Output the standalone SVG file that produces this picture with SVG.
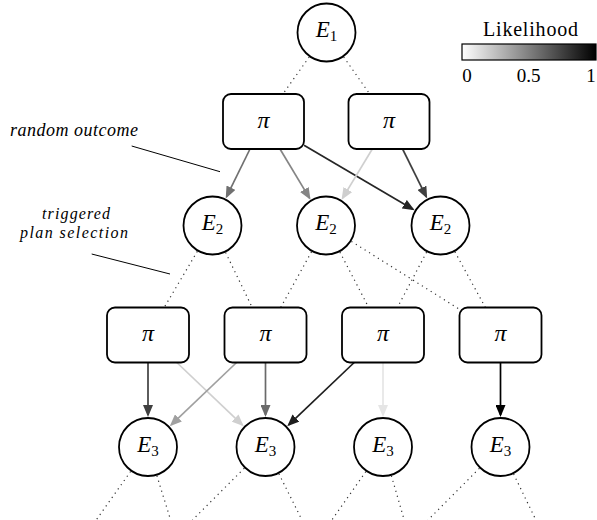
<svg xmlns="http://www.w3.org/2000/svg" width="597" height="520" viewBox="0 0 597 520">
<style>
  .node circle { fill: #fff; stroke: #000; stroke-width: 1.8; }
  .node rect { fill: #fff; stroke: #000; stroke-width: 1.8; }
  .lbl { font-family: "Liberation Serif", "Times New Roman", serif; font-style: italic; font-size: 23px; fill: #000; }
  .sub { font-size: 15px; font-style: normal; }
  .pi { font-family: "Liberation Serif", "Times New Roman", serif; font-style: italic; font-size: 24px; fill: #000; }
  .dot { stroke: #333; stroke-width: 1.2; stroke-dasharray: 1.2 4; fill: none; }
  .arr { stroke-width: 1.7; fill: none; }
  .note { font-family: "Liberation Serif", "Times New Roman", serif; font-style: italic; font-size: 18px; fill: #000; }
  .note2 { font-family: "Liberation Serif", "Times New Roman", serif; font-style: italic; font-size: 16px; fill: #000; }
  .ptr { stroke: #000; stroke-width: 1; }
  .leg { font-family: "Liberation Serif", "Times New Roman", serif; font-size: 19px; fill: #000; }
  .legt { font-family: "Liberation Serif", "Times New Roman", serif; font-size: 20px; fill: #000; }
</style>
<defs>
  <linearGradient id="grad" x1="0" y1="0" x2="1" y2="0">
    <stop offset="0" stop-color="#fff"/>
    <stop offset="1" stop-color="#000"/>
  </linearGradient>
  <marker id="m70" viewBox="0 0 12 10" refX="10" refY="5" markerWidth="12" markerHeight="10" markerUnits="userSpaceOnUse" orient="auto"><path d="M0,0 L12,5 L0,10 z" fill="#707070"/></marker>
  <marker id="m85" viewBox="0 0 12 10" refX="10" refY="5" markerWidth="12" markerHeight="10" markerUnits="userSpaceOnUse" orient="auto"><path d="M0,0 L12,5 L0,10 z" fill="#858585"/></marker>
  <marker id="m26" viewBox="0 0 12 10" refX="10" refY="5" markerWidth="12" markerHeight="10" markerUnits="userSpaceOnUse" orient="auto"><path d="M0,0 L12,5 L0,10 z" fill="#262626"/></marker>
  <marker id="mcf" viewBox="0 0 12 10" refX="10" refY="5" markerWidth="12" markerHeight="10" markerUnits="userSpaceOnUse" orient="auto"><path d="M0,0 L12,5 L0,10 z" fill="#cfcfcf"/></marker>
  <marker id="m40" viewBox="0 0 12 10" refX="10" refY="5" markerWidth="12" markerHeight="10" markerUnits="userSpaceOnUse" orient="auto"><path d="M0,0 L12,5 L0,10 z" fill="#404040"/></marker>
  <marker id="ma0" viewBox="0 0 12 10" refX="10" refY="5" markerWidth="12" markerHeight="10" markerUnits="userSpaceOnUse" orient="auto"><path d="M0,0 L12,5 L0,10 z" fill="#a0a0a0"/></marker>
  <marker id="m6a" viewBox="0 0 12 10" refX="10" refY="5" markerWidth="12" markerHeight="10" markerUnits="userSpaceOnUse" orient="auto"><path d="M0,0 L12,5 L0,10 z" fill="#6a6a6a"/></marker>
  <marker id="m1e" viewBox="0 0 12 10" refX="10" refY="5" markerWidth="12" markerHeight="10" markerUnits="userSpaceOnUse" orient="auto"><path d="M0,0 L12,5 L0,10 z" fill="#1e1e1e"/></marker>
  <marker id="me5" viewBox="0 0 12 10" refX="10" refY="5" markerWidth="12" markerHeight="10" markerUnits="userSpaceOnUse" orient="auto"><path d="M0,0 L12,5 L0,10 z" fill="#e5e5e5"/></marker>
  <marker id="m00" viewBox="0 0 12 10" refX="10" refY="5" markerWidth="12" markerHeight="10" markerUnits="userSpaceOnUse" orient="auto"><path d="M0,0 L12,5 L0,10 z" fill="#000"/></marker>
</defs>

<g id="connectors">
  <!-- dotted: E1 to plans -->
  <line class="dot" x1="309.2" y1="57.0" x2="283.0" y2="94"/>
  <line class="dot" x1="343.7" y1="57.0" x2="369.7" y2="94"/>
  <!-- dotted: E2 to plans -->
  <line class="dot" x1="197.3" y1="251.4" x2="164.2" y2="307.5"/>
  <line class="dot" x1="225.6" y1="252.5" x2="252.2" y2="307.5"/>
  <line class="dot" x1="311.5" y1="251.8" x2="280.7" y2="307.5"/>
  <line class="dot" x1="339.9" y1="252.1" x2="368.7" y2="307.5"/>
  <line class="dot" x1="351.4" y1="241.4" x2="459.5" y2="309.3"/>
  <line class="dot" x1="426.6" y1="252.1" x2="397.4" y2="307.5"/>
  <line class="dot" x1="454.9" y1="251.8" x2="485.4" y2="307.5"/>
  <!-- dotted: E3 downwards -->
  <line class="dot" x1="130.6" y1="471.5" x2="96.2" y2="520"/>
  <line class="dot" x1="156.9" y1="475.7" x2="170.6" y2="520"/>
  <line class="dot" x1="244.3" y1="468.2" x2="192.5" y2="520"/>
  <line class="dot" x1="278.9" y1="473.8" x2="302" y2="520"/>
  <line class="dot" x1="365.8" y1="471.6" x2="331.9" y2="520"/>
  <line class="dot" x1="391.4" y1="475.8" x2="404.2" y2="520"/>
  <line class="dot" x1="479.4" y1="468.3" x2="428" y2="520"/>
  <line class="dot" x1="513.6" y1="474.0" x2="535.9" y2="520"/>

  <!-- row 2 arrows -->
  <line class="arr" stroke="#707070" marker-end="url(#m70)" x1="250.0" y1="149" x2="226.6" y2="196.7"/>
  <line class="arr" stroke="#858585" marker-end="url(#m85)" x1="280.0" y1="149" x2="309.5" y2="198.1"/>
  <line class="arr" stroke="#262626" marker-end="url(#m26)" x1="304" y1="145.3" x2="412.9" y2="209.3"/>
  <line class="arr" stroke="#cfcfcf" marker-end="url(#mcf)" x1="372.3" y1="149" x2="342.6" y2="198.1"/>
  <line class="arr" stroke="#404040" marker-end="url(#m40)" x1="402.6" y1="149" x2="426.3" y2="196.8"/>

  <!-- row 3 arrows -->
  <line class="arr" stroke="#404040" marker-end="url(#m40)" x1="148" y1="362.5" x2="148" y2="415"/>
  <line class="arr" stroke="#cfcfcf" marker-end="url(#mcf)" x1="176.8" y1="362.5" x2="242.3" y2="424.9"/>
  <line class="arr" stroke="#a0a0a0" marker-end="url(#ma0)" x1="236.6" y1="362.5" x2="171.2" y2="424.9"/>
  <line class="arr" stroke="#6a6a6a" marker-end="url(#m6a)" x1="265.5" y1="362.5" x2="265.5" y2="415"/>
  <line class="arr" stroke="#1e1e1e" marker-end="url(#m1e)" x1="354.2" y1="362.5" x2="288.7" y2="424.9"/>
  <line class="arr" stroke="#e5e5e5" marker-end="url(#me5)" x1="383" y1="362.5" x2="383" y2="415"/>
  <line class="arr" stroke="#000" marker-end="url(#m00)" x1="500.5" y1="362.5" x2="500.5" y2="415"/>

  <!-- annotation pointers -->
  <line class="ptr" x1="131.7" y1="146" x2="220" y2="171.7"/>
  <line class="ptr" x1="91.7" y1="254" x2="170" y2="274"/>
</g>

<g id="E1" class="node"><circle cx="326.5" cy="32.5" r="29"/><text class="lbl" x="326.5" y="37" text-anchor="middle">E<tspan class="sub" dy="4">1</tspan></text></g>

<g id="pi1" class="node"><rect x="223" y="94" width="81" height="55" rx="8"/><text class="pi" x="263.5" y="127.5" text-anchor="middle">π</text></g>
<g id="pi2" class="node"><rect x="348.5" y="94" width="81" height="55" rx="8"/><text class="pi" x="389" y="127.5" text-anchor="middle">π</text></g>

<g id="E2a" class="node"><circle cx="212.5" cy="225.5" r="29"/><text class="lbl" x="212.5" y="230" text-anchor="middle">E<tspan class="sub" dy="4">2</tspan></text></g>
<g id="E2b" class="node"><circle cx="326" cy="225.5" r="29"/><text class="lbl" x="326" y="230" text-anchor="middle">E<tspan class="sub" dy="4">2</tspan></text></g>
<g id="E2c" class="node"><circle cx="440.5" cy="225.5" r="29"/><text class="lbl" x="440.5" y="230" text-anchor="middle">E<tspan class="sub" dy="4">2</tspan></text></g>

<g id="pi3" class="node"><rect x="107" y="307.5" width="82" height="55" rx="8"/><text class="pi" x="148" y="341" text-anchor="middle">π</text></g>
<g id="pi4" class="node"><rect x="224.5" y="307.5" width="82" height="55" rx="8"/><text class="pi" x="265.5" y="341" text-anchor="middle">π</text></g>
<g id="pi5" class="node"><rect x="342" y="307.5" width="82" height="55" rx="8"/><text class="pi" x="383" y="341" text-anchor="middle">π</text></g>
<g id="pi6" class="node"><rect x="459.5" y="307.5" width="82" height="55" rx="8"/><text class="pi" x="500.5" y="341" text-anchor="middle">π</text></g>

<g id="E3a" class="node"><circle cx="148" cy="447" r="29"/><text class="lbl" x="148" y="451.5" text-anchor="middle">E<tspan class="sub" dy="4">3</tspan></text></g>
<g id="E3b" class="node"><circle cx="265.5" cy="447" r="29"/><text class="lbl" x="265.5" y="451.5" text-anchor="middle">E<tspan class="sub" dy="4">3</tspan></text></g>
<g id="E3c" class="node"><circle cx="383" cy="447" r="29"/><text class="lbl" x="383" y="451.5" text-anchor="middle">E<tspan class="sub" dy="4">3</tspan></text></g>
<g id="E3d" class="node"><circle cx="500.5" cy="447" r="29"/><text class="lbl" x="500.5" y="451.5" text-anchor="middle">E<tspan class="sub" dy="4">3</tspan></text></g>

<g id="annotations">
  <text class="note" x="10" y="136" textLength="128" lengthAdjust="spacing">random outcome</text>
  <text class="note2" x="42" y="219" textLength="68" lengthAdjust="spacing">triggered</text>
  <text class="note2" x="20" y="238" textLength="108" lengthAdjust="spacing">plan selection</text>
</g>

<g id="legend">
  <text class="legt" x="483" y="35.5" textLength="95" lengthAdjust="spacing">Likelihood</text>
  <rect x="462" y="44" width="134" height="16" fill="url(#grad)" stroke="#000" stroke-width="1.2"/>
  <text class="leg" x="467" y="81.5" text-anchor="middle">0</text>
  <text class="leg" x="528.5" y="81.5" text-anchor="middle">0.5</text>
  <text class="leg" x="591" y="81.5" text-anchor="middle">1</text>
</g>
</svg>
